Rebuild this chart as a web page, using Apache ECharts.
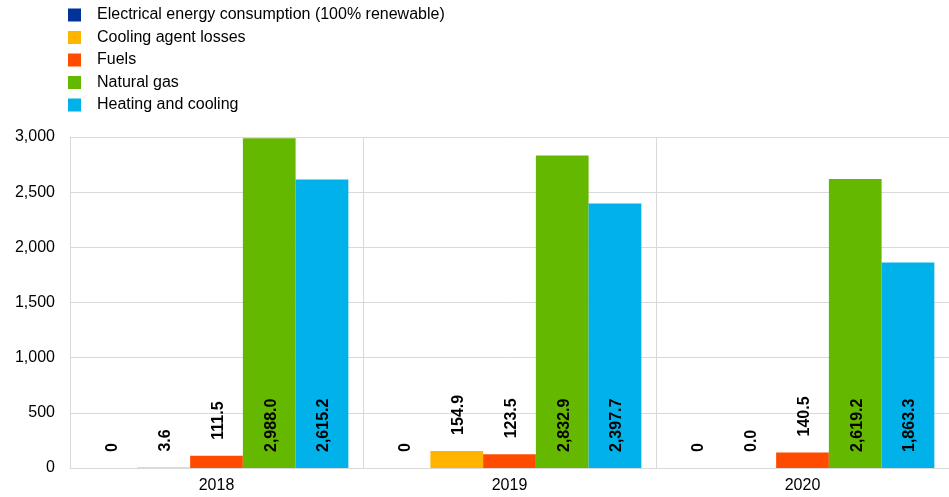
<!DOCTYPE html>
<html>
<head>
<meta charset="utf-8">
<script src="https://cdn.jsdelivr.net/npm/echarts@6/dist/echarts.min.js"></script>
<style>html,body{margin:0;padding:0;background:#fff;}#c{width:949px;height:497px;}</style>
</head>
<body>
<div id="c"></div>
<script>
const categories = ['2018', '2019', '2020'];
const seriesNames = ['Electrical energy consumption (100% renewable)', 'Cooling agent losses', 'Fuels', 'Natural gas', 'Heating and cooling'];
const electrical = [0, 0, 0];
const coolingAgent = [3.6, 154.9, 0.0];
const fuels = [111.5, 123.5, 140.5];
const naturalGas = [2988.0, 2832.9, 2619.2];
const heatingCooling = [2615.2, 2397.7, 1863.3];
const yTicks = { min: 0, max: 3000, interval: 500 };
const colors = ['#003299', '#FFB400', '#FF4B00', '#65B800', '#00B1EA'];

const fmt1 = v => v.toLocaleString('en-US', { minimumFractionDigits: 1, maximumFractionDigits: 1 });
const fmt0 = v => v.toLocaleString('en-US', { maximumFractionDigits: 0 });

function mk(name, data, color, pos, formatter) {
  return {
    name, type: 'bar', data, barGap: 0, barCategoryGap: '10%',
    itemStyle: { color },
    label: {
      show: true, position: pos, distance: 16, rotate: 90,
      align: 'left', verticalAlign: 'middle', offset: [0, 2],
      fontFamily: 'Liberation Sans, Arial, sans-serif', fontSize: 16, fontWeight: 'bold', color: '#000',
      formatter: p => formatter(p.value)
    }
  };
}

const chart = echarts.init(document.getElementById('c'));
chart.setOption({
  animation: false,
  textStyle: { fontFamily: 'Liberation Sans, Arial, sans-serif' },
  color: colors,
  legend: {
    orient: 'vertical', left: 63, top: 2, itemWidth: 13, itemHeight: 13, itemGap: 6.5,
    icon: 'rect',
    textStyle: { fontSize: 16, color: '#000', padding: [0, 0, 0, 11] },
    data: seriesNames
  },
  grid: { left: 70, right: 0, top: 137, bottom: 29, containLabel: false },
  xAxis: {
    type: 'category', data: categories,
    axisLine: { show: true, lineStyle: { color: '#d9d9d9' } },
    axisTick: { show: false },
    axisLabel: { fontSize: 16, color: '#000', margin: 10 },
    splitLine: { show: true, lineStyle: { color: '#d9d9d9' } }
  },
  yAxis: {
    type: 'value', min: yTicks.min, max: yTicks.max, interval: yTicks.interval,
    axisLine: { show: true, lineStyle: { color: '#d9d9d9' } },
    axisTick: { show: false },
    axisLabel: { fontSize: 16, color: '#000', margin: 15, formatter: v => v.toLocaleString('en-US') },
    splitLine: { show: true, lineStyle: { color: '#d9d9d9' } }
  },
  series: [
    mk(seriesNames[0], electrical, colors[0], 'top', fmt0),
    mk(seriesNames[1], coolingAgent, colors[1], 'top', fmt1),
    mk(seriesNames[2], fuels, colors[2], 'top', fmt1),
    mk(seriesNames[3], naturalGas, colors[3], 'insideBottom', fmt1),
    mk(seriesNames[4], heatingCooling, colors[4], 'insideBottom', fmt1)
  ]
});
</script>
</body>
</html>
